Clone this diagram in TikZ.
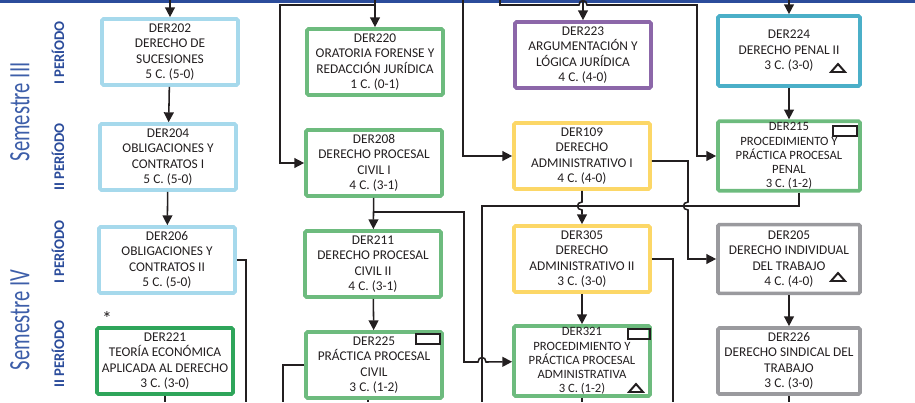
\documentclass[tikz,border=0pt]{standalone}
\usepackage{fontspec}
\setmainfont{Carlito}
\usepackage{graphicx}
\usetikzlibrary{arrows.meta}

\definecolor{plan}{HTML}{2B4C9B}
\definecolor{semcol}{HTML}{3D5EA9}
\definecolor{cielo}{HTML}{A6D9EC}
\definecolor{verde}{HTML}{6DBB7E}
\definecolor{verdeosc}{HTML}{2EA55A}
\definecolor{morado}{HTML}{8C67A9}
\definecolor{amarillo}{HTML}{FCD767}
\definecolor{turquesa}{HTML}{4BAFC8}
\definecolor{gris}{HTML}{9A9A9E}
\definecolor{linea}{HTML}{231F20}

\begin{document}
\begin{tikzpicture}[x=0.025cm,y=-0.025cm,
    curso/.style={draw, line width=2.6pt, rounded corners=1pt, minimum width=3.4cm,
      minimum height=1.65cm, inner sep=1pt, align=center, text=linea,
      font=\fontsize{9.5}{11}\selectfont},
    ancho/.style={minimum width=3.55cm},
    largo/.style={font=\fontsize{9}{10.1}\selectfont},
    arr/.style={draw=linea, line width=1.1pt, -{Triangle[length=7pt,width=7pt]}},
    lin/.style={draw=linea, line width=1.1pt},
    caja/.style={draw=linea, line width=1pt},
    alerta/.style={draw=linea, line width=1.4pt, line join=miter},
    semestre/.style={rotate=90, text=semcol, font=\fontsize{21}{21}\selectfont},
    periodo/.style={rotate=90, text=plan, font=\fontsize{10.5}{10.5}\selectfont\bfseries}]
  \useasboundingbox (0,0) rectangle (915,402);
  \fill[plan] (0,0) rectangle (915,3);

  % etiquetas
  \node[semestre] (sem3) at (20,112) {\scalebox{0.7}[1]{Semestre III}};
  \node[semestre] (sem4) at (20,320) {\scalebox{0.7}[1]{Semestre IV}};
  \node[periodo] (p1) at (58,53) {I PERÍODO};
  \node[periodo] (p2) at (58,157) {II PERÍODO};
  \node[periodo] (p3) at (58,252) {I PERÍODO};
  \node[periodo] (p4) at (58,354) {II PERÍODO};
  \node[font=\fontsize{14}{14}\selectfont, text=linea] (ast) at (107,319) {*};

  % cursos
  \node[curso, draw=cielo] (d202) at (170,52) {DER202\\DERECHO DE\\SUCESIONES\\5 C. (5-0)};
  \node[curso, draw=cielo] (d204) at (168,157) {DER204\\OBLIGACIONES Y\\CONTRATOS I\\5 C. (5-0)};
  \node[curso, draw=cielo] (d206) at (167,260) {DER206\\OBLIGACIONES Y\\CONTRATOS II\\5 C. (5-0)};
  \node[curso, draw=verdeosc] (d221) at (165,361) {DER221\\TEORÍA ECONÓMICA\\APLICADA AL DERECHO\\3 C. (3-0)};

  \node[curso, draw=verde] (d220) at (375,62) {DER220\\ORATORIA FORENSE Y\\REDACCIÓN JURÍDICA\\1 C. (0-1)};
  \node[curso, draw=verde] (d208) at (374,163) {DER208\\DERECHO PROCESAL\\CIVIL I\\4 C. (3-1)};
  \node[curso, draw=verde] (d211) at (373,264) {DER211\\DERECHO PROCESAL\\CIVIL II\\4 C. (3-1)};
  \node[curso, draw=verde] (d225) at (374,365) {DER225\\PRÁCTICA PROCESAL\\CIVIL\\3 C. (1-2)};

  \node[curso, draw=morado] (d223) at (583,55) {DER223\\ARGUMENTACIÓN Y\\LÓGICA JURÍDICA\\4 C. (4-0)};
  \node[curso, draw=amarillo] (d109) at (582,156) {DER109\\DERECHO\\ADMINISTRATIVO I\\4 C. (4-0)};
  \node[curso, draw=amarillo] (d305) at (582,259) {DER305\\DERECHO\\ADMINISTRATIVO II\\3 C. (3-0)};
  \node[curso, largo, draw=verde, minimum height=1.75cm] (d321) at (582,361) {DER321\\PROCEDIMIENTO Y\\PRÁCTICA PROCESAL\\ADMINISTRATIVA\\3 C. (1-2)};

  \node[curso, ancho, draw=turquesa, minimum height=1.75cm] (d224) at (789,51) {DER224\\DERECHO PENAL II\\3 C. (3-0)};
  \node[curso, ancho, largo, draw=verde] (d215) at (789,156) {DER215\\PROCEDIMIENTO Y\\PRÁCTICA PROCESAL\\PENAL\\3 C. (1-2)};
  \node[curso, ancho, draw=gris, minimum height=1.72cm] (d205) at (789,259) {DER205\\DERECHO INDIVIDUAL\\DEL TRABAJO\\4 C. (4-0)};
  \node[curso, ancho, draw=gris] (d226) at (789,361) {DER226\\DERECHO SINDICAL DEL\\TRABAJO\\3 C. (3-0)};

  % marcas
  \draw[caja] (416,334) rectangle (440,344);
  \draw[caja] (833,126) rectangle (857,136);
  \draw[caja] (628,329) rectangle (650,339);
  \draw[alerta] (831,72) -- (845,72) -- (838,64) -- cycle;
  \draw[alerta] (629,392) -- (643,392) -- (636,384) -- cycle;
  \draw[alerta] (831,281) -- (845,281) -- (838,273) -- cycle;

  % extremos libres
  \coordinate (e202) at (170,0);
  \coordinate (e220) at (375,0);
  \coordinate (r220) at (375,5);
  \coordinate (e109) at (463,0);
  \coordinate (e215) at (500,0);
  \coordinate (r215) at (500,5);
  \coordinate (e223) at (583,0);
  \coordinate (e224) at (789,0);
  \coordinate (r208) at (374,212);
  \coordinate (s221) at (165,402);
  \coordinate (s206) at (246,402);
  \coordinate (s225a) at (283,402);
  \coordinate (s225) at (368,402);
  \coordinate (s215) at (482,402);
  \coordinate (s321) at (582,402);
  \coordinate (s305) at (673,402);
  \coordinate (s226) at (789,402);

  % conexiones
  \draw[arr] (e202) -- (d202);
  \draw[arr] (d202) -- (d204);
  \draw[arr] (d204) -- (d206);
  \draw[lin] (d206.east) -| (s206);
  \draw[lin] (d221) -- (s221);

  \draw[arr] (e220) -- (d220);
  \draw[arr] (r220) -- (280,5) |- (d208);
  \draw[arr] (d208) -- (d211);
  \draw[arr] (r208) -- (464,212) |- (478,362) .. controls (478,356) and (486,356) .. (486,362) -- (d321);
  \draw[arr] (d211) -- (d225);
  \draw[lin] (d225.west) -| (s225a);
  \draw[lin] ([shift={(-6,0)}]d225.south) -- (s225);

  \draw[arr] (e109) |- (d109);
  \draw[arr] (e223) -- (d223);
  \draw[arr] (e215) -- (r215) -- (579,5) .. controls (579,-1) and (587,-1) .. (587,5) -- (697,5) |- (d215);
  \draw[arr] (d109.south) -- (582,202) .. controls (576,202) and (576,210) .. (582,210) -- (d305.north);
  \draw[arr] ([shift={(0,5)}]d109.east) -- (688,161) -- (688,202) .. controls (682,202) and (682,210) .. (688,210) |- (d205);
  \draw[lin] ([shift={(10,0)}]d215.south) -- (799,206) -- (482,206) -- (s215);
  \draw[arr] (d305) -- (d321);
  \draw[lin] (d305.east) -| (s305);
  \draw[lin] (d321) -- (s321);

  \draw[arr] (e224) -- (d224);
  \draw[arr] (d224) -- (d215);
  \draw[arr] (d205) -- (d226);
  \draw[lin] (d226) -- (s226);
\end{tikzpicture}
\end{document}
